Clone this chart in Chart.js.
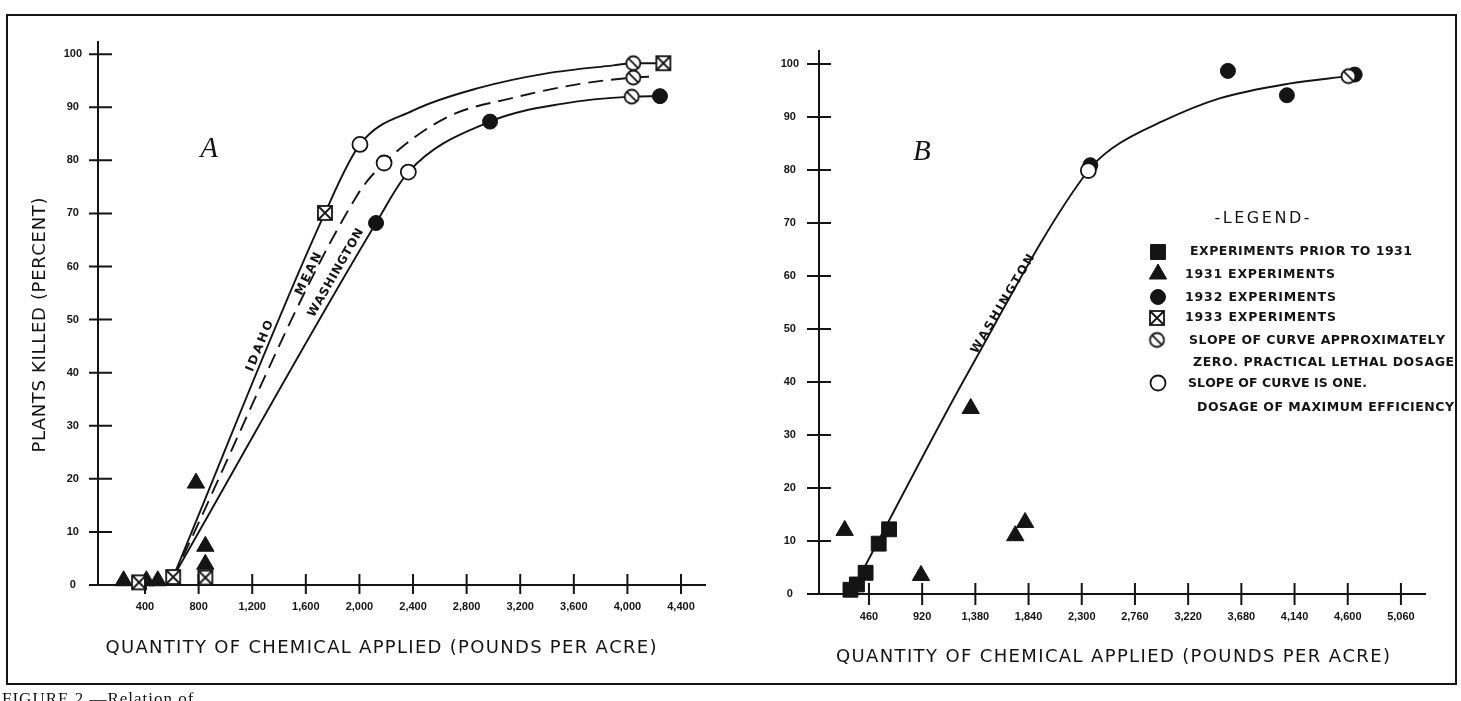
<!DOCTYPE html>
<html>
<head>
<meta charset="utf-8">
<title>Plants killed and quantity of chemical applied</title>
<script src="https://cdn.jsdelivr.net/npm/chart.js"></script>
<style>
  html, body { margin: 0; padding: 0; background: #fff; }
  body { width: 1461px; height: 701px; position: relative; overflow: hidden; }
  #frame { position: absolute; left: 6px; top: 14px; width: 1451px; height: 671px; border: 2px solid #141414; box-sizing: border-box; }
  canvas { position: absolute; top: 0; }
  #chartA { left: 0; }
  #chartB { left: 730px; }
  #caption { position: absolute; left: 2px; top: 689px; font: 17px "Liberation Serif", serif; color: #141414; white-space: nowrap; letter-spacing: 1px; }
</style>
</head>
<body>
<div id="frame"></div>
<canvas id="chartA" width="730" height="701"></canvas>
<canvas id="chartB" width="731" height="701"></canvas>
<div id="caption">FIGURE 2.—Relation of</div>
<script>
// ---- data ----
const percentTicks = [0, 10, 20, 30, 40, 50, 60, 70, 80, 90, 100];

// panel A
const aTickValues = [400, 800, 1200, 1600, 2000, 2400, 2800, 3200, 3600, 4000, 4400];
const aTickLabels = ['400', '800', '1,200', '1,600', '2,000', '2,400', '2,800', '3,200', '3,600', '4,000', '4,400'];

const idahoX = [610, 1743, 2004, 2403, 2900, 3398, 3895, 4044, 4268];
const idahoY = [1.5, 70.1, 83, 89.4, 93.7, 96.4, 97.9, 98.3, 98.3];
const meanX = [610, 1980, 2184, 2652, 3149, 3646, 4044, 4206];
const meanY = [1.5, 73.3, 79.5, 88.1, 91.8, 94.4, 95.6, 95.8];
const washAX = [610, 2124, 2365, 2975, 3522, 4032, 4243];
const washAY = [1.5, 68.2, 77.8, 87.3, 90.7, 92, 92.1];

const aTri1931X = [240, 410, 495, 780, 850, 850];
const aTri1931Y = [0.8, 0.8, 0.8, 19.2, 7.3, 3.9];
const aDot1932X = [2124, 2975, 4243];
const aDot1932Y = [68.2, 87.3, 92.1];
const aBox1933X = [355, 610, 850, 1743, 4268];
const aBox1933Y = [0.5, 1.5, 1.4, 70.1, 98.3];
const aZeroSlopeX = [4044, 4044, 4032];
const aZeroSlopeY = [98.3, 95.6, 92];
const aUnitSlopeX = [2004, 2184, 2365];
const aUnitSlopeY = [83, 79.5, 77.8];

// panel B
const bTickValues = [460, 920, 1380, 1840, 2300, 2760, 3220, 3680, 4140, 4600, 5060];
const bTickLabels = ['460', '920', '1,380', '1,840', '2,300', '2,760', '3,220', '3,680', '4,140', '4,600', '5,060'];

const washBX = [420, 1320, 2357, 2563, 3000, 3491, 4091, 4606];
const washBY = [5, 41.9, 79.9, 84.1, 89.2, 93.5, 96.3, 97.7];

const bPriorX = [300, 356, 431, 544, 634];
const bPriorY = [0.8, 1.8, 4, 9.5, 12.2];
const bTri1931X = [250, 910, 1340, 1725, 1810];
const bTri1931Y = [12, 3.5, 35, 11, 13.5];
const bDot1932X = [2374, 3564, 4074, 4660];
const bDot1932Y = [80.9, 98.7, 94.1, 98];
const bZeroSlopeX = [4606];
const bZeroSlopeY = [97.7];
const bUnitSlopeX = [2357];
const bUnitSlopeY = [79.9];

// ---- styles ----
const INK = '#141414';
const SANS = '"DejaVu Sans", sans-serif';

function pts(xs, ys) {
    return xs.map((x, i) => ({ x: x, y: ys[i] }));
}

// open markers drawn once into small canvases
function makeMarker(kind, size) {
    const c = document.createElement('canvas');
    c.width = c.height = size + 4;
    const g = c.getContext('2d');
    const m = c.width / 2, h = size / 2;
    g.strokeStyle = INK;
    g.fillStyle = '#fff';
    g.lineWidth = 1.8;
    if (kind === 'box') {
        g.fillRect(m - h, m - h, size, size);
        g.strokeRect(m - h, m - h, size, size);
        g.beginPath();
        g.moveTo(m - h, m - h); g.lineTo(m + h, m + h);
        g.moveTo(m + h, m - h); g.lineTo(m - h, m + h);
        g.stroke();
    } else {
        g.beginPath();
        g.arc(m, m, h - 0.5, 0, Math.PI * 2);
        g.fill();
        g.stroke();
        const d = h * 0.68;
        g.beginPath();
        g.moveTo(m - d, m - d); g.lineTo(m + d, m + d);
        g.stroke();
    }
    return c;
}

const squareStyle = { pointStyle: 'rect', pointRadius: 10.5, pointBackgroundColor: INK, pointBorderColor: INK, pointBorderWidth: 1 };
const triStyle = { pointStyle: 'triangle', pointRadius: 10, pointBackgroundColor: INK, pointBorderColor: INK, pointBorderWidth: 1 };
const dotStyle = { pointStyle: 'circle', pointRadius: 7.5, pointBackgroundColor: INK, pointBorderColor: INK, pointBorderWidth: 1 };
const openStyle = { pointStyle: 'circle', pointRadius: 7.5, pointBackgroundColor: '#fff', pointBorderColor: INK, pointBorderWidth: 1.8 };
const boxStyle = { pointStyle: makeMarker('box', 14), pointRadius: 8 };
const zeroStyle = { pointStyle: makeMarker('zero', 15), pointRadius: 8 };

function markerSet(label, xs, ys, style) {
    return Object.assign({ label: label, data: pts(xs, ys), showLine: false, clip: false }, style);
}

function curveSet(label, xs, ys, dash) {
    return {
        label: label,
        data: pts(xs, ys),
        showLine: true,
        pointRadius: 0,
        borderColor: INK,
        borderWidth: 1.9,
        borderDash: dash || [],
        fill: false,
        cubicInterpolationMode: 'monotone',
        clip: false
    };
}

// letter-spaced text, centred on (cx, cy)
function drawSpaced(ctx, text, cx, cy, width) {
    const chars = Array.from(text);
    const widths = chars.map(c => ctx.measureText(c).width);
    const natural = widths.reduce((a, b) => a + b, 0);
    const gap = chars.length > 1 ? (width - natural) / (chars.length - 1) : 0;
    let x = cx - width / 2;
    ctx.textAlign = 'left';
    ctx.textBaseline = 'middle';
    chars.forEach((c, i) => {
        ctx.fillText(c, x, cy);
        x += widths[i] + gap;
    });
}

function drawMarker(ctx, st, x, y) {
    const s = st.pointStyle, r = st.pointRadius;
    if (typeof s !== 'string') {
        ctx.drawImage(s, x - s.width / 2, y - s.height / 2);
        return;
    }
    ctx.fillStyle = st.pointBackgroundColor;
    ctx.strokeStyle = st.pointBorderColor;
    ctx.lineWidth = st.pointBorderWidth;
    ctx.beginPath();
    if (s === 'rect') {
        const h = r * Math.SQRT1_2;
        ctx.rect(x - h, y - h, 2 * h, 2 * h);
    } else if (s === 'triangle') {
        for (let k = 0; k < 3; k++) {
            const a = k * 2 * Math.PI / 3;
            ctx.lineTo(x + Math.sin(a) * r, y - Math.cos(a) * r);
        }
        ctx.closePath();
    } else {
        ctx.arc(x, y, r, 0, Math.PI * 2);
    }
    ctx.fill();
    ctx.stroke();
}

// axes crossing ticks, titles, curve names, panel letter, legend
function overlay(p) {
    return {
        id: 'overlay' + p.letter.text,
        afterDraw(chart) {
            const ctx = chart.ctx, area = chart.chartArea;
            const sx = chart.scales.x, sy = chart.scales.y;
            ctx.save();
            ctx.strokeStyle = INK;
            ctx.fillStyle = INK;
            ctx.lineWidth = 2;
            ctx.beginPath();
            sy.ticks.forEach(t => {
                const py = sy.getPixelForValue(t.value);
                ctx.moveTo(area.left - p.yTickOut, py);
                ctx.lineTo(area.left + p.yTickIn, py);
            });
            sx.ticks.forEach(t => {
                const px = sx.getPixelForValue(t.value);
                ctx.moveTo(px, area.bottom - p.xTickUp);
                ctx.lineTo(px, area.bottom + p.xTickDown);
            });
            ctx.stroke();

            ctx.font = '18px ' + SANS;
            drawSpaced(ctx, p.xTitle.text, p.xTitle.cx, p.xTitle.cy, p.xTitle.w);
            if (p.yTitle) {
                ctx.save();
                ctx.translate(p.yTitle.cx, p.yTitle.cy);
                ctx.rotate(-Math.PI / 2);
                drawSpaced(ctx, p.yTitle.text, 0, 0, p.yTitle.w);
                ctx.restore();
            }

            ctx.font = 'italic 29px "Liberation Serif", serif';
            ctx.textAlign = 'center';
            ctx.textBaseline = 'middle';
            ctx.fillText(p.letter.text, sx.getPixelForValue(p.letter.x), sy.getPixelForValue(p.letter.y));

            ctx.font = 'bold 12px ' + SANS;
            p.curveLabels.forEach(l => {
                const x0 = sx.getPixelForValue(l.xs[l.seg[0]]), y0 = sy.getPixelForValue(l.ys[l.seg[0]]);
                const x1 = sx.getPixelForValue(l.xs[l.seg[1]]), y1 = sy.getPixelForValue(l.ys[l.seg[1]]);
                ctx.save();
                ctx.translate(sx.getPixelForValue(l.x), sy.getPixelForValue(l.y));
                ctx.rotate(Math.atan2(y1 - y0, x1 - x0));
                drawSpaced(ctx, l.text, 0, 0, l.w);
                ctx.restore();
            });

            if (p.legend) {
                const lg = p.legend;
                ctx.font = '16px ' + SANS;
                drawSpaced(ctx, lg.heading.text, lg.heading.cx, lg.heading.cy, lg.heading.w);
                ctx.font = 'bold 12.5px ' + SANS;
                lg.rows.forEach(r => {
                    drawMarker(ctx, r.style, r.mx, r.my);
                    ctx.fillStyle = INK;
                    r.lines.forEach(t => drawSpaced(ctx, t.text, t.x + t.w / 2, t.y, t.w));
                });
            }
            ctx.restore();
        }
    };
}

const tickFont = { family: '"Liberation Sans", sans-serif', size: 11, weight: 'bold' };

function buildChart(p, datasets) {
    return new Chart(document.getElementById(p.canvas), {
        type: 'scatter',
        data: { datasets: datasets },
        options: {
            responsive: false,
            animation: false,
            devicePixelRatio: 1,
            events: [],
            layout: { padding: p.padding },
            plugins: { legend: { display: false }, tooltip: { enabled: false } },
            scales: {
                x: {
                    type: 'linear',
                    min: p.xMin,
                    max: p.xMax,
                    grid: { display: true, drawOnChartArea: false, drawTicks: false },
                    border: { display: true, color: INK, width: 2 },
                    ticks: {
                        autoSkip: false,
                        maxRotation: 0,
                        padding: p.xLabelPad,
                        color: INK,
                        font: tickFont,
                        callback: (v, i) => p.xLabels[i]
                    },
                    afterBuildTicks: s => { s.ticks = p.xTicks.map(v => ({ value: v })); },
                    afterFit: s => { s.height = p.xHeight; }
                },
                y: {
                    type: 'linear',
                    min: 0,
                    max: p.yMax,
                    grid: { display: true, drawOnChartArea: false, drawTicks: false },
                    border: { display: true, color: INK, width: 2 },
                    ticks: {
                        padding: p.yLabelPad,
                        crossAlign: 'center',
                        color: INK,
                        font: tickFont
                    },
                    afterBuildTicks: s => { s.ticks = percentTicks.map(v => ({ value: v })); },
                    afterFit: s => { s.width = p.yWidth; }
                }
            }
        },
        plugins: [overlay(p)]
    });
}

const xTitleText = 'QUANTITY OF CHEMICAL APPLIED (POUNDS PER ACRE)';

const panelA = {
    canvas: 'chartA',
    padding: { left: 0, top: 42, right: 25, bottom: 0 },
    yWidth: 98, xHeight: 116,
    xMin: 49, xMax: 4579, yMax: 102.3,
    xTicks: aTickValues, xLabels: aTickLabels,
    xLabelPad: 15, yLabelPad: 16,
    yTickOut: 9, yTickIn: 14, xTickUp: 11, xTickDown: 9,
    xTitle: { text: xTitleText, cx: 381, cy: 648, w: 551 },
    yTitle: { text: 'PLANTS KILLED (PERCENT)', cx: 40, cy: 325, w: 255 },
    letter: { text: 'A', x: 878, y: 82 },
    curveLabels: [
        { text: 'IDAHO', x: 1258, y: 45, w: 54, xs: idahoX, ys: idahoY, seg: [0, 1] },
        { text: 'MEAN', x: 1622, y: 58.6, w: 46, xs: meanX, ys: meanY, seg: [0, 1] },
        { text: 'WASHINGTON', x: 1825, y: 58.8, w: 100, xs: washAX, ys: washAY, seg: [0, 1] }
    ]
};

const panelB = {
    canvas: 'chartB',
    padding: { left: 0, top: 51, right: 36, bottom: 0 },
    yWidth: 89, xHeight: 107,
    xMin: 28, xMax: 5268, yMax: 102.45,
    xTicks: bTickValues, xLabels: bTickLabels,
    xLabelPad: 16, yLabelPad: 20,
    yTickOut: 12, yTickIn: 12, xTickUp: 11, xTickDown: 11,
    xTitle: { text: xTitleText, cx: 383, cy: 657, w: 554 },
    letter: { text: 'B', x: 918, y: 83.4 },
    curveLabels: [
        { text: 'WASHINGTON', x: 1619, y: 54.7, w: 113, xs: washBX, ys: washBY, seg: [1, 2] }
    ],
    legend: {
        heading: { text: '-LEGEND-', cx: 532, cy: 219, w: 95 },
        rows: [
            { style: squareStyle, mx: 428, my: 252, lines: [{ text: 'EXPERIMENTS PRIOR TO 1931', x: 460, y: 252, w: 222 }] },
            { style: triStyle, mx: 428, my: 274, lines: [{ text: '1931 EXPERIMENTS', x: 455, y: 275, w: 150 }] },
            { style: dotStyle, mx: 428, my: 297, lines: [{ text: '1932 EXPERIMENTS', x: 455, y: 298, w: 151 }] },
            { style: boxStyle, mx: 427, my: 318, lines: [{ text: '1933 EXPERIMENTS', x: 455, y: 318, w: 151 }] },
            { style: zeroStyle, mx: 427, my: 340, lines: [
                { text: 'SLOPE OF CURVE APPROXIMATELY', x: 459, y: 341, w: 256 },
                { text: 'ZERO. PRACTICAL LETHAL DOSAGE', x: 463, y: 363, w: 261 }
            ] },
            { style: openStyle, mx: 428, my: 383, lines: [
                { text: 'SLOPE OF CURVE IS ONE.', x: 458, y: 384, w: 179 },
                { text: 'DOSAGE OF MAXIMUM EFFICIENCY', x: 467, y: 408, w: 257 }
            ] }
        ]
    }
};

buildChart(panelA, [
    markerSet('1933 experiments', aBox1933X, aBox1933Y, boxStyle),
    markerSet('Slope approximately zero', aZeroSlopeX, aZeroSlopeY, zeroStyle),
    markerSet('Slope is one', aUnitSlopeX, aUnitSlopeY, openStyle),
    markerSet('1932 experiments', aDot1932X, aDot1932Y, dotStyle),
    markerSet('1931 experiments', aTri1931X, aTri1931Y, triStyle),
    curveSet('Idaho', idahoX, idahoY),
    curveSet('Mean', meanX, meanY, [15, 8]),
    curveSet('Washington', washAX, washAY)
]);

buildChart(panelB, [
    markerSet('Slope approximately zero', bZeroSlopeX, bZeroSlopeY, zeroStyle),
    markerSet('Slope is one', bUnitSlopeX, bUnitSlopeY, openStyle),
    markerSet('1932 experiments', bDot1932X, bDot1932Y, dotStyle),
    markerSet('1931 experiments', bTri1931X, bTri1931Y, triStyle),
    markerSet('Experiments prior to 1931', bPriorX, bPriorY, squareStyle),
    curveSet('Washington', washBX, washBY)
]);
</script>
</body>
</html>
